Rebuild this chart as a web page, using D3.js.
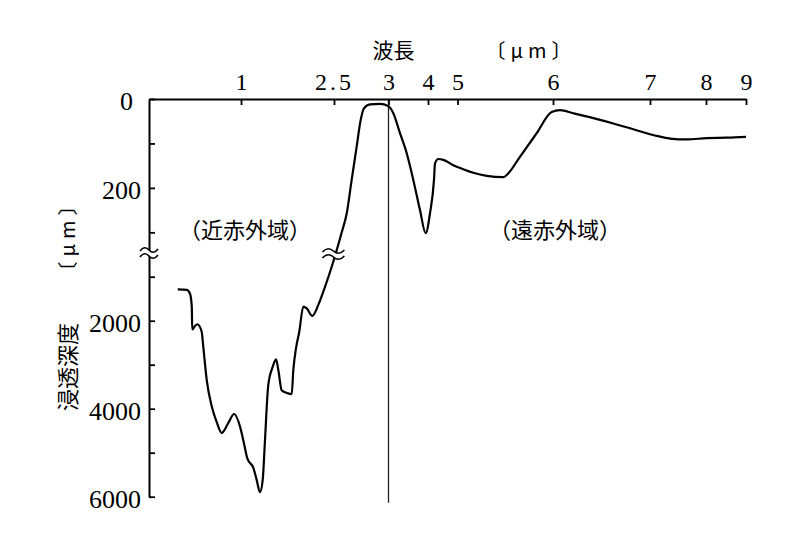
<!DOCTYPE html>
<html>
<head>
<meta charset="utf-8">
<script src="https://cdn.jsdelivr.net/npm/d3@7"></script>
<style>
  html, body { margin: 0; padding: 0; background: #fff; }
  svg { display: block; }
</style>
</head>
<body>
<svg id="chart" width="800" height="555"></svg>
<script>
// ---- data ----
const wavelength = [0.725, 0.764, 0.778, 0.786, 0.788, 0.800, 0.810, 0.829, 0.836, 0.851,
  0.873, 0.894, 0.916, 0.945, 0.970, 0.996, 1.048, 1.102, 1.198, 1.253,
  1.306, 1.350, 1.387, 1.440, 1.511, 1.565, 1.602, 1.656, 1.737, 1.818,
  1.844, 1.887, 1.940, 2.005, 2.060, 2.150, 2.247, 2.355, 2.463, 2.571,
  2.617, 2.662, 2.708, 2.745, 2.775, 2.830, 2.922, 2.998, 3.122, 3.291,
  3.461, 3.628, 3.797, 3.942, 4.068, 4.203, 4.237, 4.349, 4.519, 4.858,
  5.061, 5.165, 5.306, 5.480, 5.515, 5.654, 5.829, 5.986, 6.072, 6.209,
  6.416, 6.622, 6.828, 7.120, 7.357, 7.655, 8.018, 8.518, 9.0];
const depth = [1290, 1300, 1380, 1680, 2200, 2120, 2080, 2250, 2590, 3350,
  3950, 4300, 4550, 4320, 4120, 4410, 4790, 5130, 5340, 5620,
  5900, 5620, 4710, 3460, 3050, 2880, 3120, 3580, 3640, 3670,
  3120, 2630, 2250, 1680, 1720, 1890, 1640, 1230, 773, 300,
  257, 182, 107, 47, 21, 12, 11, 16, 32, 77,
  122, 182, 250, 302, 257, 182, 145, 135, 137, 149,
  158, 166, 173, 176, 171, 130, 77, 29, 25, 32,
  43, 55, 68, 83, 89, 91, 88, 87, 85];
const xTicks = [1, 2.5, 3, 4, 5, 6, 7, 8, 9];
const yTicks = [0, 100, 200, 300, 1000, 2000, 3000, 4000, 5000, 6000];
const yLabels = [0, 200, 2000, 4000, 6000];
const regionNames = ["（近赤外域）", "（遠赤外域）"];
const regionAt = [[1.065, 290], [6.02, 290]];
const xTitle = "波長";
const unit = "〔μm〕";
const yTitle = "浸透深度";
const breakTop = 346.5, breakBottom = 461;   // axis break (µm)
const axisStart = 0.6;                       // wavelength at the left axis

// ---- scales (hand-drawn, non-uniform wavelength axis) ----
const x = d3.scaleLinear()
  .domain([axisStart, 1, 2.5, 3, 4, 5, 6, 7, 8, 9])
  .range([149, 241, 334, 388.5, 428, 457.5, 553, 650, 706, 746]);
const y = d3.scaleLinear()
  .domain([0, breakTop, breakBottom, 6000])
  .range([99, 253, 253, 496.7]);

const svg = d3.select("#chart");
svg.append("rect").attr("width", 800).attr("height", 555).attr("fill", "#fff");

const serif = "'Liberation Serif', 'DejaVu Serif', serif";
const cjk = "'Noto Sans CJK JP', 'Noto Sans', sans-serif";

// vertical line at 3 µm
svg.append("line")
  .attr("x1", x(3)).attr("x2", x(3))
  .attr("y1", y(0)).attr("y2", y(6000) + 6)
  .attr("stroke", "#222").attr("stroke-width", 1.3);

// curve
const pts = wavelength.map((w, i) => [w, depth[i]]);
svg.append("path")
  .datum(pts)
  .attr("fill", "none")
  .attr("stroke", "#000")
  .attr("stroke-width", 2.2)
  .attr("stroke-linejoin", "round")
  .attr("d", d3.line().x(d => x(d[0])).y(d => y(d[1])).curve(d3.curveMonotoneX));

// top axis
const gx = svg.append("g").attr("transform", `translate(0,${y(0)})`)
  .call(d3.axisTop(x).tickValues(xTicks).tickSizeInner(-6).tickSizeOuter(0).tickPadding(9)
    .tickFormat(d => String(d)));
gx.select(".domain").attr("stroke-width", 2);
gx.selectAll(".tick line").attr("stroke-width", 1.8);
gx.selectAll(".tick text")
  .attr("font-family", serif).attr("font-size", 24).attr("fill", "#000")
  .attr("letter-spacing", d => d === 2.5 ? "3px" : null);

// left axis
const gy = svg.append("g").attr("transform", `translate(${x(axisStart)},0)`)
  .call(d3.axisLeft(y).tickValues(yTicks).tickSizeInner(-6).tickSizeOuter(0).tickPadding(8)
    .tickFormat(d => yLabels.includes(d) ? String(d) : ""));
gy.select(".domain").attr("stroke-width", 2);
gy.selectAll(".tick line").attr("stroke-width", 1.8);
gy.selectAll(".tick text")
  .attr("font-family", serif).attr("font-size", 26).attr("fill", "#000")
  .attr("dy", "0.42em")
  .attr("dx", d => d === 0 ? -8 : 0);

// break symbols
function breakMark(cx, cy, w) {
  const g = svg.append("g").attr("transform", `translate(${cx},${cy})`);
  const top = `M${-w},${-2} Q${-w / 2},${-8} 0,${-3} T${w},${-4}`;
  const bot = `M${-w},${4} Q${-w / 2},${-2} 0,${3} T${w},${2}`;
  g.append("path")
    .attr("d", `M${-w},${-2} Q${-w / 2},${-8} 0,${-3} T${w},${-4} L${w},${2} Q${w / 2},${8} 0,${3} T${-w},${4} Z`)
    .attr("fill", "#fff").attr("stroke", "none");
  g.append("path").attr("d", top).attr("fill", "none").attr("stroke", "#000").attr("stroke-width", 1.6);
  g.append("path").attr("d", bot).attr("fill", "none").attr("stroke", "#000").attr("stroke-width", 1.6);
}
breakMark(x(axisStart), y(breakTop), 9);
breakMark(x(2.49), y(breakTop) + 1, 11);

// region labels
svg.selectAll("text.region").data(regionNames).enter().append("text")
  .attr("class", "region")
  .attr("x", (d, i) => x(regionAt[i][0]))
  .attr("y", (d, i) => y(regionAt[i][1]))
  .attr("text-anchor", "middle").attr("dominant-baseline", "central")
  .attr("font-family", cjk).attr("font-size", 22).attr("fill", "#000")
  .text(d => d);

// x title
svg.append("text").attr("x", 393.5).attr("y", 49)
  .attr("text-anchor", "middle").attr("dominant-baseline", "central")
  .attr("font-family", cjk).attr("font-size", 21).text(xTitle);
svg.append("text").attr("x", 531).attr("y", 49)
  .attr("text-anchor", "middle").attr("dominant-baseline", "central")
  .attr("font-family", cjk).attr("font-size", 20).attr("letter-spacing", "5px").text(unit);

// y title (rotated, reading bottom to top)
svg.append("text").attr("transform", "translate(66,367) rotate(-90)")
  .attr("text-anchor", "middle").attr("dominant-baseline", "central")
  .attr("font-family", cjk).attr("font-size", 22).text(yTitle);
svg.append("text").attr("transform", "translate(66,236) rotate(-90)")
  .attr("text-anchor", "middle").attr("dominant-baseline", "central")
  .attr("font-family", cjk).attr("font-size", 20).attr("letter-spacing", "5px").text(unit);
</script>
</body>
</html>
